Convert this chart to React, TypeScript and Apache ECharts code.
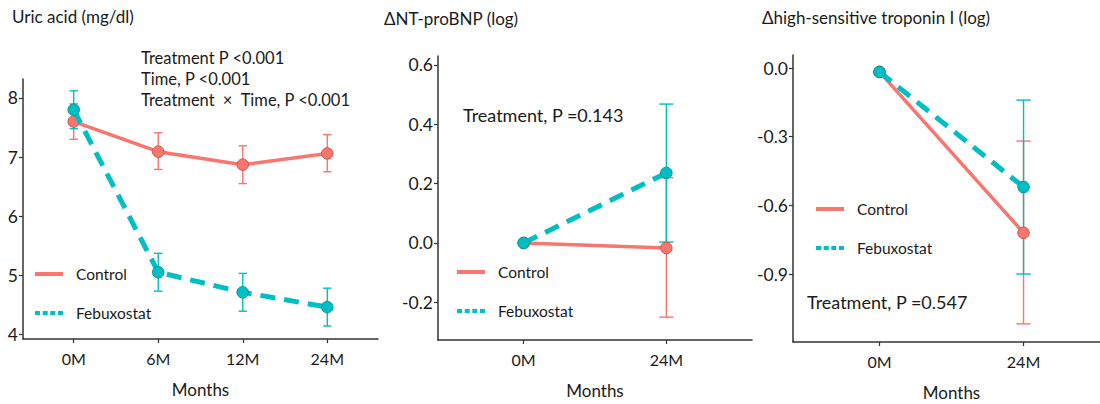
import React, { useEffect, useRef } from "react";
import * as echarts from "echarts";

const FONT = "Lato";
const RED = "#F8766D";
const RED_DARK = "#D0564E";
const TEAL = "#00BFC4";
const TEAL_DARK = "#00979B";

const monthsUric = ["0M", "6M", "12M", "24M"];
const monthsDelta = ["0M", "24M"];

const uricControl = [7.6, 7.09, 6.87, 7.06];
const uricControlLow = [7.3, 6.79, 6.55, 6.75];
const uricControlHigh = [7.9, 7.41, 7.19, 7.38];
const uricFebux = [7.8, 5.05, 4.71, 4.46];
const uricFebuxLow = [7.48, 4.73, 4.39, 4.14];
const uricFebuxHigh = [8.12, 5.37, 5.03, 4.78];

const bnpControl = [0, -0.017];
const bnpControlLow = [null, -0.25];
const bnpControlHigh = [null, 0.22];
const bnpFebux = [0, 0.236];
const bnpFebuxLow = [null, 0.003];
const bnpFebuxHigh = [null, 0.468];

const tnControl = [-0.017, -0.72];
const tnControlLow = [null, -1.118];
const tnControlHigh = [null, -0.319];
const tnFebux = [-0.017, -0.52];
const tnFebuxLow = [null, -0.9];
const tnFebuxHigh = [null, -0.14];

const uricTicks = [4, 5, 6, 7, 8];
const bnpTicks = [-0.2, 0, 0.2, 0.4, 0.6];
const tnTicks = [-0.9, -0.6, -0.3, 0];

const titles = ["Uric acid (mg/dl)", "\u0394NT-proBNP (log)", "\u0394high-sensitive troponin I (log)"];
const uricNotes = ["Treatment P <0.001", "Time, P <0.001", "Treatment\u2002\u00d7\u2002Time, P <0.001"];
const bnpNote = "Treatment, P =0.143";
const tnNote = "Treatment, P =0.547";

const toPoints = (vals: number[]) => vals.map((v, i) => [i, v]);
const toErr = (lo: (number | null)[], hi: (number | null)[]) =>
  lo
    .map((l, i) => (l == null || hi[i] == null ? null : [i, l, hi[i]]))
    .filter((d) => d !== null);

function errSeries(data: any[], color: string, axis: number) {
  return {
    type: "custom",
    xAxisIndex: axis,
    yAxisIndex: axis,
    z: 1,
    encode: { x: 0, y: [1, 2] },
    data,
    renderItem: (params: any, api: any) => {
      const x = api.value(0);
      const lo = api.value(1);
      const hi = api.value(2);
      const pLo = api.coord([x, lo]);
      const pHi = api.coord([x, hi]);
      const half = Math.abs(api.coord([x + 0.05, lo])[0] - pLo[0]);
      const style = { stroke: color, lineWidth: 1.4 };
      return {
        type: "group",
        children: [
          { type: "line", shape: { x1: pLo[0], y1: pLo[1], x2: pHi[0], y2: pHi[1] }, style },
          { type: "line", shape: { x1: pLo[0] - half, y1: pLo[1], x2: pLo[0] + half, y2: pLo[1] }, style },
          { type: "line", shape: { x1: pHi[0] - half, y1: pHi[1], x2: pHi[0] + half, y2: pHi[1] }, style },
        ],
      };
    },
  };
}

function lineSeries(name: string, vals: number[], axis: number) {
  const control = name === "Control";
  return {
    type: "line",
    name,
    xAxisIndex: axis,
    yAxisIndex: axis,
    z: control ? 2 : 3,
    data: toPoints(vals),
    symbol: "circle",
    symbolSize: 11.5,
    itemStyle: {
      color: control ? RED : TEAL,
      borderColor: control ? RED_DARK : TEAL_DARK,
      borderWidth: 1,
    },
    lineStyle: control
      ? { color: RED, width: 3.5 }
      : { color: TEAL, width: 5, type: [15, 9] },
  };
}

const axisLineStyle = { show: true, lineStyle: { color: "#333", width: 1.5 } };

function xAxis(idx: number, labels: string[]) {
  const vals = labels.map((_, i) => i);
  return {
    type: "value",
    gridIndex: idx,
    min: -0.6,
    max: labels.length - 1 + 0.6,
    splitLine: { show: false },
    axisLine: { ...axisLineStyle, onZero: false },
    axisTick: { show: true, length: 4, customValues: vals, lineStyle: { color: "#333", width: 1.2 } },
    axisLabel: {
      color: "#1a1a1a",
      fontFamily: FONT,
      fontSize: 16,
      margin: 11,
      customValues: vals,
      formatter: (v: number) => labels[Math.round(v)] ?? "",
    },
    name: "Months",
    nameLocation: "middle",
    nameGap: 42,
    nameTextStyle: { color: "#1a1a1a", fontFamily: FONT, fontSize: 17 },
  };
}

function yAxis(idx: number, min: number, max: number, ticks: number[], digits: number) {
  return {
    type: "value",
    gridIndex: idx,
    min,
    max,
    splitLine: { show: false },
    axisLine: { ...axisLineStyle, onZero: false },
    axisTick: { show: true, length: 4, customValues: ticks, lineStyle: { color: "#333", width: 1.2 } },
    axisLabel: {
      color: "#1a1a1a",
      fontFamily: FONT,
      fontSize: 17.5,
      margin: 5,
      customValues: ticks,
      formatter: (v: number) => v.toFixed(digits),
    },
  };
}

const legendIcons: Record<string, string> = {
  Control: "path://M0,0H28V4H0Z",
  Febuxostat: "path://M0,0H5V4H0Z M7.7,0H12.7V4H7.7Z M15.3,0H20.3V4H15.3Z M23,0H28V4H23Z",
};

function legend(left: number, top: number) {
  return {
    left,
    top,
    orient: "vertical",
    padding: 0,
    itemWidth: 28,
    itemHeight: 4,
    itemGap: 19,
    selectedMode: false,
    textStyle: { color: "#1a1a1a", fontFamily: FONT, fontSize: 15.5, lineHeight: 20, padding: [0, 0, 0, 8] },
    data: ["Control", "Febuxostat"].map((n) => ({
      name: n,
      icon: legendIcons[n],
      itemStyle: { color: n === "Control" ? RED : TEAL, borderWidth: 0 },
    })),
  };
}

function note(text: string, x: number, y: number, size: number) {
  return {
    type: "text",
    x,
    y,
    style: { text, fill: "#1a1a1a", font: `${size}px ${FONT}`, verticalAlign: "middle" },
  };
}

export default function App() {
  const ref = useRef<HTMLDivElement>(null);
  useEffect(() => {
    if (!ref.current) return;
    const chart = echarts.init(ref.current, undefined, { renderer: "svg" });
    chart.setOption({
      animation: false,
      backgroundColor: "#fff",
      title: [
        { text: titles[0], left: 12, top: 8 },
        { text: titles[1], left: 384, top: 10 },
        { text: titles[2], left: 762, top: 9 },
      ].map((t) => ({
        ...t,
        padding: 0,
        textStyle: { color: "#1a1a1a", fontFamily: FONT, fontSize: 17, fontWeight: "normal" },
      })),
      grid: [
        { left: 23, top: 79, width: 355, height: 260, outerBoundsMode: "none" },
        { left: 438, top: 56, width: 314, height: 284, outerBoundsMode: "none" },
        { left: 793, top: 55, width: 317, height: 287, outerBoundsMode: "none" },
      ],
      xAxis: [xAxis(0, monthsUric), xAxis(1, monthsDelta), xAxis(2, monthsDelta)],
      yAxis: [
        yAxis(0, 3.92, 8.32, uricTicks, 0),
        yAxis(1, -0.327, 0.63, bnpTicks, 1),
        yAxis(2, -1.197, 0.057, tnTicks, 1),
      ],
      legend: [legend(35, 264), legend(457, 262), legend(816, 199)],
      graphic: [
        note(uricNotes[0], 141, 58, 16.5),
        note(uricNotes[1], 141, 79, 16.5),
        note(uricNotes[2], 141, 100, 16.5),
        note(bnpNote, 463, 115, 18),
        note(tnNote, 807, 302, 18),
      ],
      series: [
        errSeries(toErr(uricControlLow, uricControlHigh), RED, 0),
        errSeries(toErr(uricFebuxLow, uricFebuxHigh), TEAL, 0),
        lineSeries("Control", uricControl, 0),
        lineSeries("Febuxostat", uricFebux, 0),
        errSeries(toErr(bnpControlLow, bnpControlHigh), RED, 1),
        errSeries(toErr(bnpFebuxLow, bnpFebuxHigh), TEAL, 1),
        lineSeries("Control", bnpControl, 1),
        lineSeries("Febuxostat", bnpFebux, 1),
        errSeries(toErr(tnControlLow, tnControlHigh), RED, 2),
        errSeries(toErr(tnFebuxLow, tnFebuxHigh), TEAL, 2),
        lineSeries("Control", tnControl, 2),
        lineSeries("Febuxostat", tnFebux, 2),
      ],
    });
    return () => chart.dispose();
  }, []);
  return (
    <div
      ref={ref}
      style={{ position: "fixed", left: 0, top: 0, width: 1100, height: 404, background: "#fff" }}
    />
  );
}
